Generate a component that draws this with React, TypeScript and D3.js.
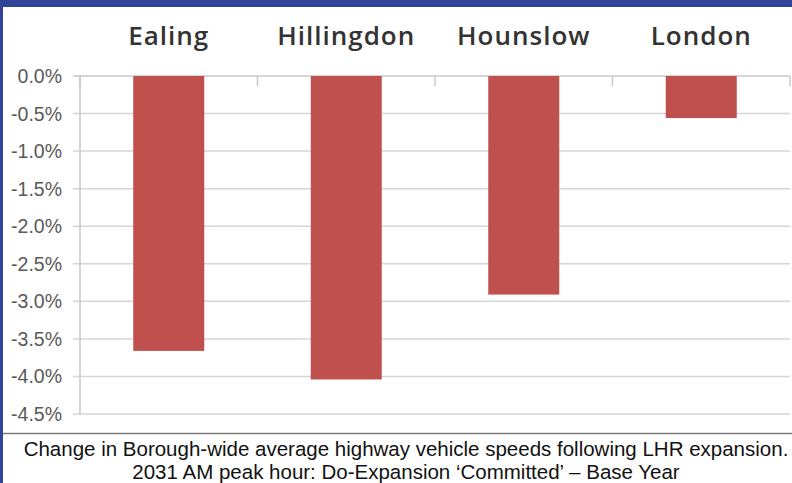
import React, { useEffect, useRef } from 'react';
import * as d3 from 'd3';

const boroughs = ['Ealing', 'Hillingdon', 'Hounslow', 'London'];
const speedChange = [-3.66, -4.04, -2.91, -0.56];
const yTicks = [0, -0.5, -1, -1.5, -2, -2.5, -3, -3.5, -4, -4.5];
const captionLines = [
  'Change in Borough-wide average highway vehicle speeds following LHR expansion.',
  '2031 AM peak hour: Do-Expansion \u2018Committed\u2019 \u2013 Base Year',
];

const W = 792;
const H = 483;

const App = () => {
  const ref = useRef<SVGSVGElement>(null);

  useEffect(() => {
    const svg = d3.select(ref.current);
    svg.selectAll('*').remove();

    const margin = { top: 76, right: 2, bottom: 69, left: 80 };
    const height = H - margin.top - margin.bottom;

    // frame
    svg.append('rect').attr('width', W).attr('height', H).attr('fill', '#fff');
    svg.append('rect').attr('width', W).attr('height', 7).attr('fill', '#30449a');
    svg.append('rect').attr('width', 3).attr('height', H).attr('fill', '#30449a');

    const x = d3.scaleBand()
      .domain(boroughs)
      .range([margin.left, W - margin.right])
      .paddingInner(0.6)
      .paddingOuter(0.3);

    const y = d3.scaleLinear()
      .domain([0, -4.5])
      .range([margin.top, margin.top + height]);

    // gridlines
    svg.append('g')
      .selectAll('line')
      .data(yTicks)
      .join('line')
      .attr('x1', margin.left - 7)
      .attr('x2', W - margin.right)
      .attr('y1', d => y(d))
      .attr('y2', d => y(d))
      .attr('stroke', (d) => d === 0 ? '#c8c8c8' : '#d6d6d6')
      .attr('stroke-width', 1.5);

    // y axis line
    svg.append('line')
      .attr('x1', margin.left).attr('x2', margin.left)
      .attr('y1', y(0)).attr('y2', y(-4.5))
      .attr('stroke', '#c8c8c8').attr('stroke-width', 1.5);

    // category boundary ticks
    const step = x.step();
    const bounds = d3.range(boroughs.length + 1).map(i => margin.left + i * step);
    svg.append('g')
      .selectAll('line')
      .data(bounds)
      .join('line')
      .attr('x1', d => d).attr('x2', d => d)
      .attr('y1', y(0)).attr('y2', y(0) + 10)
      .attr('stroke', '#c8c8c8').attr('stroke-width', 1.5);

    // y labels (plain hyphen minus, like the original)
    svg.append('g')
      .selectAll('text')
      .data(yTicks)
      .join('text')
      .attr('x', 62)
      .attr('y', d => y(d))
      .attr('dy', '0.36em')
      .attr('text-anchor', 'end')
      .attr('font-family', 'Liberation Sans, Arial, sans-serif')
      .attr('font-size', 19.5)
      .attr('fill', '#595959')
      .text(d => d3.format('.1f')(d).replace('\u2212', '-') + '%');

    // bars
    svg.append('g')
      .selectAll('rect')
      .data(boroughs)
      .join('rect')
      .attr('x', d => x(d)!)
      .attr('width', x.bandwidth())
      .attr('y', y(0))
      .attr('height', (d, i) => y(speedChange[i]) - y(0))
      .attr('fill', '#c0504d');

    // category labels at top
    svg.append('g')
      .selectAll('text')
      .data(boroughs)
      .join('text')
      .attr('x', d => x(d)! + x.bandwidth() / 2)
      .attr('y', 45)
      .attr('text-anchor', 'middle')
      .attr('font-family', 'Open Sans, sans-serif')
      .attr('font-weight', 600)
      .attr('font-size', 26)
      .attr('letter-spacing', 1)
      .attr('fill', '#333')
      .text(d => d);

    // separator
    svg.append('line')
      .attr('x1', 3).attr('x2', W)
      .attr('y1', 433.5).attr('y2', 433.5)
      .attr('stroke', '#7a7a7a').attr('stroke-width', 1.5);

    // caption
    svg.append('g')
      .selectAll('text')
      .data(captionLines)
      .join('text')
      .attr('x', 406)
      .attr('y', (d, i) => 456 + i * 23)
      .attr('text-anchor', 'middle')
      .attr('font-family', 'Liberation Sans, Arial, sans-serif')
      .attr('font-size', 20.5)
      .attr('fill', '#111')
      .text(d => d);
  }, []);

  return (
    <div style={{ position: 'absolute', left: 0, top: 0 }}>
      <svg ref={ref} width={W} height={H} style={{ display: 'block' }}></svg>
    </div>
  );
};

export default App;
